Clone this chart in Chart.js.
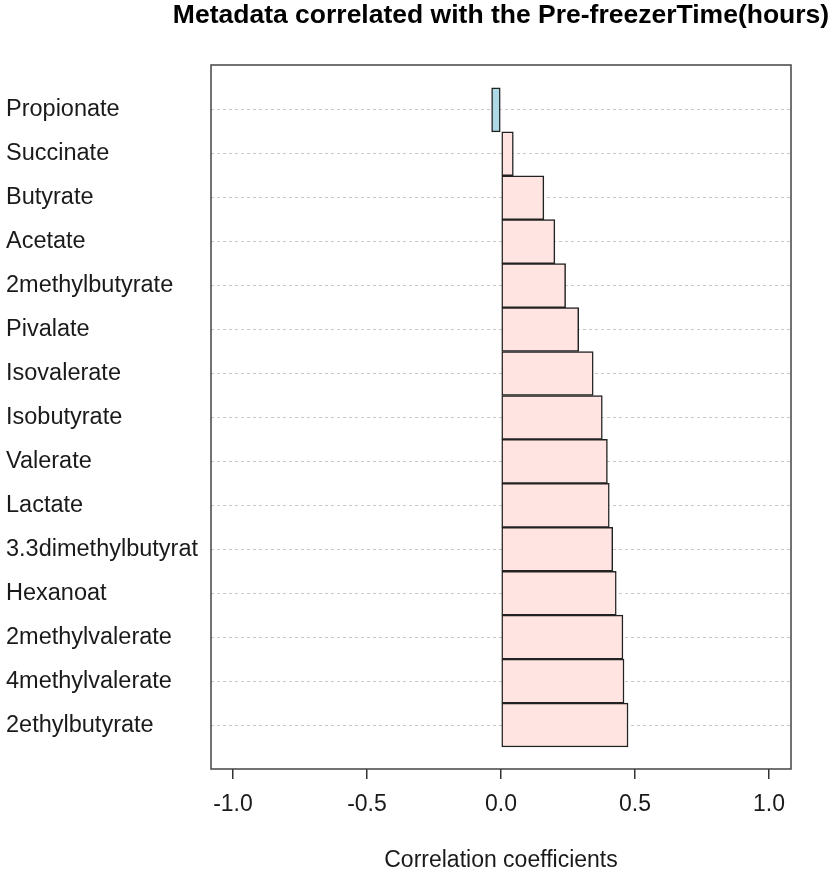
<!DOCTYPE html>
<html>
<head>
<meta charset="utf-8">
<script src="https://cdn.jsdelivr.net/npm/chart.js@4"></script>
<style>
  html, body { margin: 0; padding: 0; background: #fff; }
  #wrap { width: 834px; height: 876px; }
</style>
</head>
<body>
<div id="wrap"><canvas id="myChart" width="834" height="876"></canvas></div>
<script>
// metabolites, top to bottom
const labels_n = ["Propionate", "Succinate", "Butyrate", "Acetate", "2methylbutyrate",
	"Pivalate", "Isovalerate", "Isobutyrate", "Valerate", "Lactate",
	"3.3dimethylbutyrat", "Hexanoat", "2methylvalerate", "4methylvalerate", "2ethylbutyrate"];
// correlation with pre-freezer time
const data_n = [-0.035, 0.046, 0.160, 0.201, 0.241, 0.290, 0.344, 0.378,
	0.397, 0.404, 0.417, 0.430, 0.455, 0.459, 0.474];
const ticks_x = [-1.0, -0.5, 0.0, 0.5, 1.0];

const titulo = "Metadata correlated with the Pre-freezerTime(hours)";
const fuente = "'Liberation Sans', Arial, sans-serif";

// caja alrededor del area del grafico + titulo
const marco = {
	id: "marco",
	afterDatasetsDraw(chart) {
		const a = chart.chartArea;
		const c = chart.ctx;
		c.save();
		c.strokeStyle = "#444";
		c.lineWidth = 1.5;
		c.strokeRect(a.left, a.top, a.right - a.left, a.bottom - a.top);
		c.restore();
	},
	afterDraw(chart) {
		const a = chart.chartArea;
		const c = chart.ctx;
		c.save();
		c.fillStyle = "#000";
		c.font = "bold 26.5px " + fuente;
		c.textAlign = "center";
		c.textBaseline = "middle";
		c.fillText(titulo, (a.left + a.right) / 2, 16);
		c.restore();
	}
};

const ctx = document.getElementById("myChart").getContext("2d");

let myChart = new Chart(ctx, {
	type: "bar",
	data: {
		datasets: [
			{
				data: data_n.map((v, i) => ({ x: v, y: i })),
				backgroundColor: data_n.map(v => v < 0 ? "#add8e6" : "#ffe4e1"),
				borderColor: "#222",
				borderWidth: 1.5,
				borderSkipped: false,
				barPercentage: 1,
				categoryPercentage: 1,
			}
		],
	},
	plugins: [marco],
	options: {
		indexAxis: "y",
		responsive: false,
		animation: false,
		layout: { padding: { left: 6, right: 43, top: 65, bottom: 0 } },
		plugins: {
			legend: { display: false },
			tooltip: { enabled: false },
		},
		scales: {
			y: {
				type: "linear",
				reverse: true,
				offset: false,
				min: -1.02,
				max: 15.0,
				afterBuildTicks: (s) => { s.ticks = labels_n.map((_, i) => ({ value: i })); },
				afterFit: (s) => { s.width = 205; },
				border: { display: false, dash: [3, 3] },
				grid: {
					offset: false,
					color: "#c8c8c8",
					lineWidth: 1,
					drawTicks: false,
				},
				ticks: {
					crossAlign: "far",
					padding: 0,
					color: "#1a1a1a",
					font: { family: fuente, size: 23.5 },
					callback: (v) => labels_n[v],
				},
			},
			x: {
				type: "linear",
				min: -1.082,
				max: 1.082,
				afterBuildTicks: (s) => { s.ticks = ticks_x.map(v => ({ value: v })); },
				afterFit: (s) => { s.height = 107; },
				border: { display: false },
				grid: {
					drawOnChartArea: false,
					drawTicks: true,
					tickLength: 10,
					color: "#333",
					lineWidth: 1.5,
				},
				ticks: {
					padding: 12,
					color: "#1a1a1a",
					font: { family: fuente, size: 23 },
					callback: (v) => v.toFixed(1),
				},
				title: {
					display: true,
					text: "Correlation coefficients",
					color: "#1a1a1a",
					font: { family: fuente, size: 23 },
					padding: { top: 0, bottom: 2 },
				},
			},
		},
	},
});
</script>
</body>
</html>
